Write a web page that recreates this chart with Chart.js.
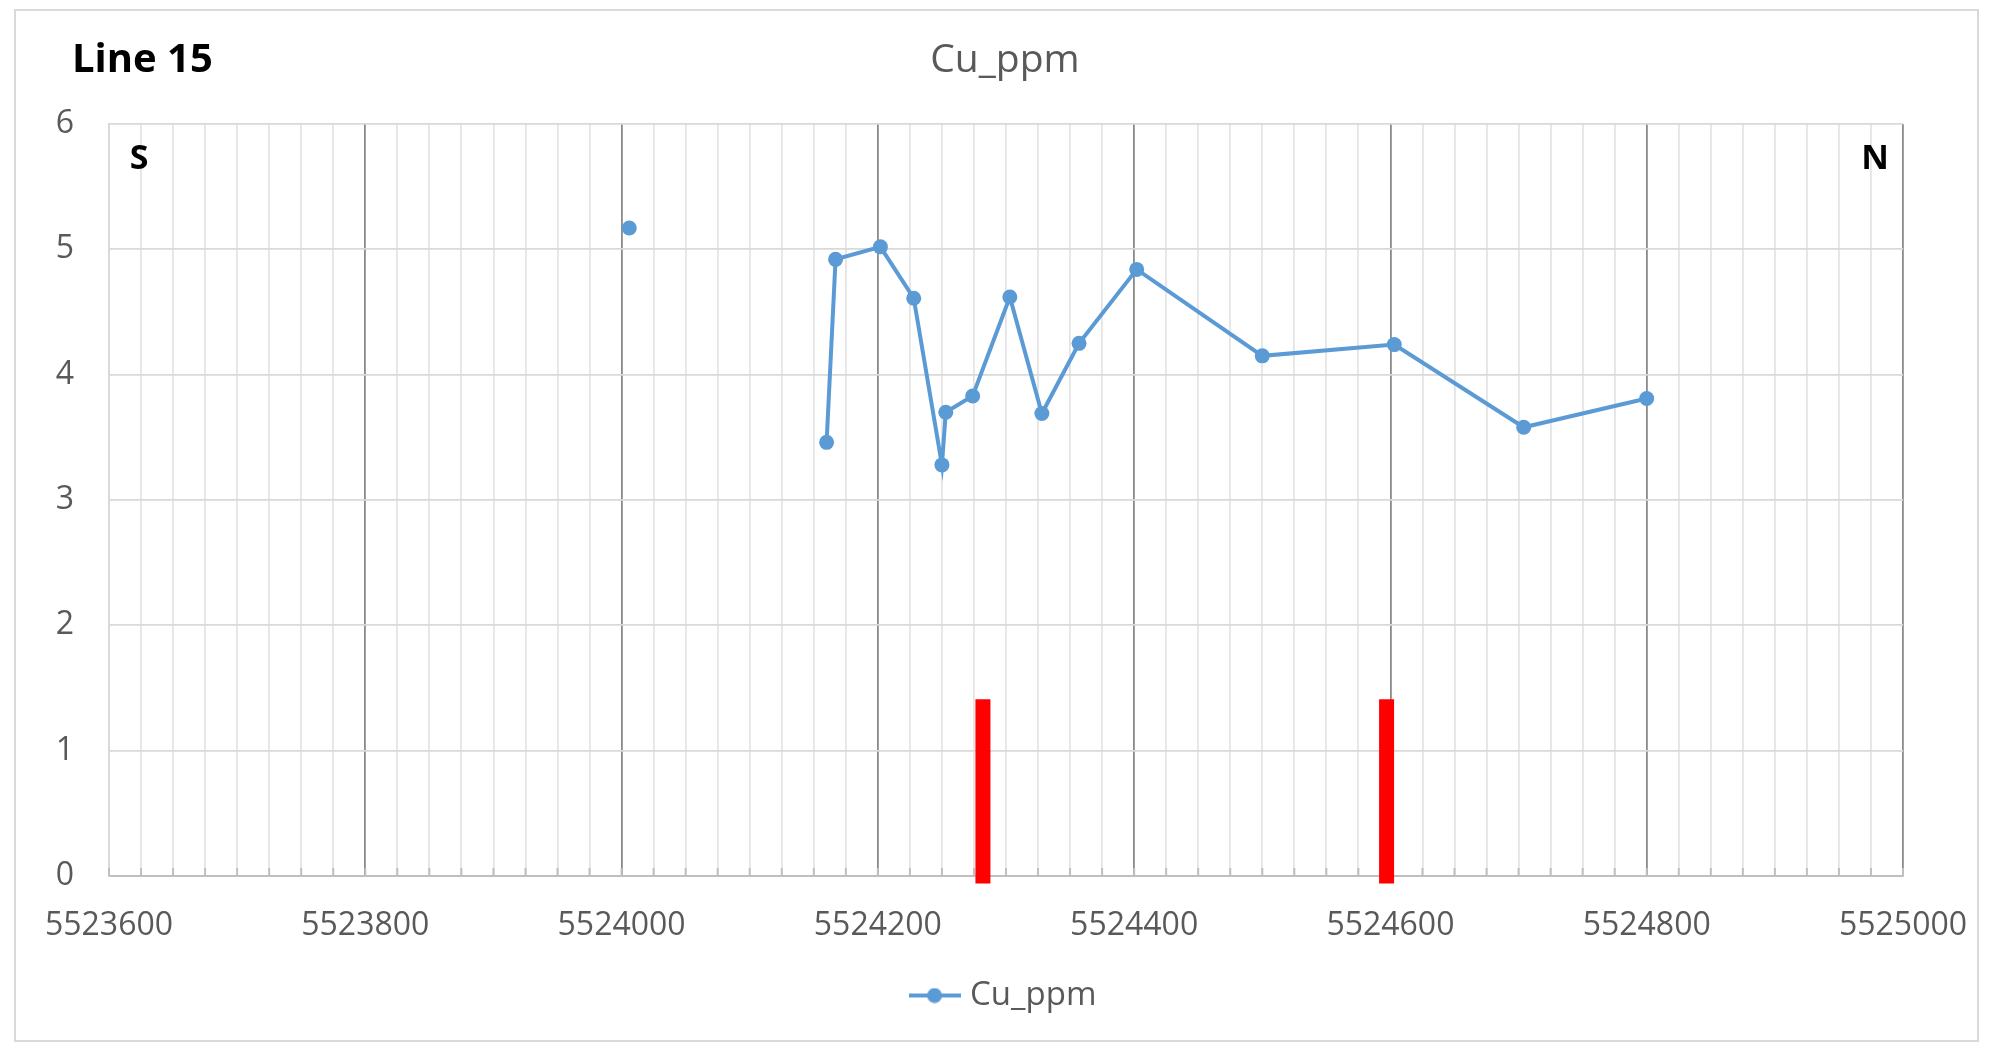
<!DOCTYPE html>
<html>
<head>
<meta charset="utf-8">
<title>Line 15 - Cu_ppm</title>
<script src="https://cdn.jsdelivr.net/npm/chart.js@4.4.1/dist/chart.umd.min.js"></script>
<style>
  html, body { margin: 0; padding: 0; background: #fff; }
  canvas { display: block; }
</style>
</head>
<body>
<canvas id="chart" width="1993" height="1051"></canvas>
<script>
// sample northing (m) and Cu (ppm); the null leaves a gap after the lone sample
const northing = [5524006, 5524080, 5524160, 5524167, 5524202, 5524228, 5524250, 5524253,
    5524274, 5524303, 5524328, 5524357, 5524402, 5524500, 5524603, 5524704, 5524800];
const cuPpm = [5.17, null, 3.46, 4.92, 5.02, 4.61, 3.28, 3.70,
    3.83, 4.62, 3.69, 4.25, 4.84, 4.15, 4.24, 3.58, 3.81];

// red marker bars
const zoneNorthing = [5524282, 5524597];
const zoneTop = 1.41;
const zoneBottom = -0.06;

// axes
const xMin = 5523600, xMax = 5525000, xLabelStep = 200, xMinorStep = 25;
const yMin = 0, yMax = 6, yStep = 1;

const FONT = "'Open Sans', 'DejaVu Sans', sans-serif";
const BLUE = '#5b9bd5';
const GREY_TEXT = '#595959';

Chart.defaults.font.family = FONT;

// legend swatch: line with a dot in the middle
function legendIcon() {
    const c = document.createElement('canvas');
    c.width = 52;
    c.height = 16;
    const g = c.getContext('2d');
    g.strokeStyle = BLUE;
    g.lineWidth = 4;
    g.beginPath();
    g.moveTo(0, 8);
    g.lineTo(52, 8);
    g.stroke();
    g.fillStyle = BLUE;
    g.beginPath();
    g.arc(26, 8, 7.5, 0, Math.PI * 2);
    g.fill();
    return c;
}

const cuData = northing.map((n, i) => ({x: n, y: cuPpm[i]}));
const zoneData = [];
zoneNorthing.forEach((n, i) => {
    if (i > 0) zoneData.push({x: n, y: null});
    zoneData.push({x: n, y: zoneBottom});
    zoneData.push({x: n, y: zoneTop});
});

const framePlugin = {
    id: 'frame',
    beforeDraw(chart) {
        const ctx = chart.ctx;
        ctx.save();
        ctx.fillStyle = '#fff';
        ctx.fillRect(0, 0, chart.width, chart.height);
        ctx.strokeStyle = '#d9d9d9';
        ctx.lineWidth = 2;
        ctx.strokeRect(15, 10, 1963, 1031);
        ctx.restore();
    },
    beforeDatasetsDraw(chart) {
        // small inside tick marks along the x axis
        const x = chart.scales.x;
        const bottom = chart.chartArea.bottom;
        const ctx = chart.ctx;
        ctx.save();
        ctx.strokeStyle = '#bfbfbf';
        ctx.lineWidth = 2;
        x.ticks.forEach(t => {
            const px = x.getPixelForValue(t.value);
            ctx.beginPath();
            ctx.moveTo(px, bottom);
            ctx.lineTo(px, bottom - 8);
            ctx.stroke();
        });
        ctx.restore();
    },
    afterDraw(chart) {
        const ctx = chart.ctx;
        ctx.save();
        ctx.textBaseline = 'alphabetic';
        ctx.fillStyle = '#000';
        ctx.textAlign = 'left';
        ctx.font = 'bold 40px ' + FONT;
        ctx.fillText('Line 15', 72, 72);
        ctx.textAlign = 'center';
        ctx.font = 'bold 34px ' + FONT;
        ctx.fillText('S', 139, 169);
        ctx.fillText('N', 1875, 169);
        ctx.fillStyle = GREY_TEXT;
        ctx.font = '39px ' + FONT;
        ctx.fillText('Cu_ppm', 1005, 72);
        ctx.restore();
    }
};

const icon = legendIcon();

new Chart(document.getElementById('chart').getContext('2d'), {
    type: 'line',
    data: {
        datasets: [{
            label: 'Cu_ppm',
            data: cuData,
            borderColor: BLUE,
            backgroundColor: BLUE,
            borderWidth: 4,
            pointRadius: 7.5,
            pointBorderWidth: 0,
            pointBackgroundColor: BLUE,
            spanGaps: false,
            tension: 0
        }, {
            label: 'zone',
            data: zoneData,
            borderColor: '#ff0000',
            borderWidth: 15,
            borderCapStyle: 'butt',
            pointRadius: 0,
            spanGaps: false,
            clip: false
        }]
    },
    options: {
        responsive: false,
        animation: false,
        layout: {
            padding: {left: 15, right: 90, top: 124, bottom: 29}
        },
        plugins: {
            tooltip: {enabled: false},
            legend: {
                position: 'bottom',
                fullSize: false,
                labels: {
                    usePointStyle: true,
                    pointStyleWidth: 38,
                    padding: 20,
                    color: GREY_TEXT,
                    font: {size: 33},
                    generateLabels: () => [{
                        text: 'Cu_ppm',
                        pointStyle: icon,
                        fontColor: GREY_TEXT,
                        fillStyle: BLUE,
                        strokeStyle: BLUE,
                        lineWidth: 0,
                        hidden: false,
                        datasetIndex: 0
                    }]
                }
            }
        },
        scales: {
            x: {
                type: 'linear',
                min: xMin,
                max: xMax,
                afterFit: s => {
                    s.height = 83;
                    s.paddingLeft = 0;
                    s.paddingRight = 0;
                },
                ticks: {
                    stepSize: xMinorStep,
                    autoSkip: false,
                    maxRotation: 0,
                    padding: 31,
                    color: GREY_TEXT,
                    font: {size: 32},
                    callback: v => (v % xLabelStep === 0 ? String(v) : '')
                },
                grid: {
                    drawTicks: false,
                    color: c => (c.tick && c.tick.value % xLabelStep === 0 && c.tick.value !== xMin) ? '#8a8a8a' : '#e4e4e4',
                    lineWidth: 1.8
                },
                border: {color: '#bfbfbf', width: 2}
            },
            y: {
                min: yMin,
                max: yMax,
                afterFit: s => { s.width = 94; },
                ticks: {
                    stepSize: yStep,
                    padding: 35,
                    color: GREY_TEXT,
                    font: {size: 32}
                },
                grid: {
                    drawTicks: false,
                    color: '#d9d9d9',
                    lineWidth: 1.8
                },
                border: {color: '#d9d9d9', width: 2}
            }
        }
    },
    plugins: [framePlugin]
});
</script>
</body>
</html>
